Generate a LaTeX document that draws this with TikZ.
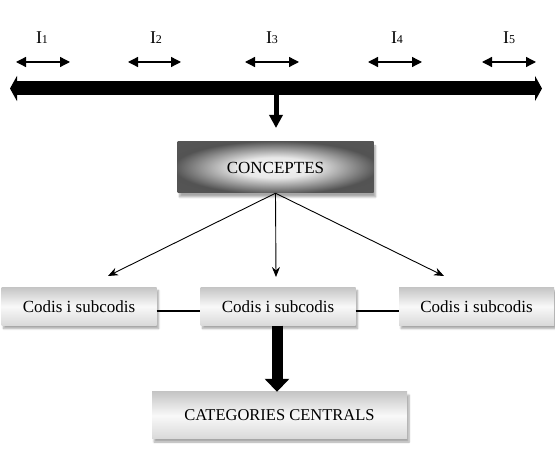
\documentclass[tikz,border=0pt]{standalone}
\usepackage{fontspec}
\setmainfont{Liberation Serif}
\usetikzlibrary{arrows.meta,shadows.blur}
\pgfdeclareradialshading{conshade}{\pgfpoint{0bp}{0bp}}{color(0bp)=(gray!8); color(10bp)=(gray!18); color(26bp)=(gray!65!black); color(50bp)=(gray!70!black)}
\begin{document}
\begin{tikzpicture}[x=1pt,y=-1pt,
  lbl/.style={font=\fontsize{18}{20}\selectfont, inner sep=0pt},
  dbl/.style={line width=1.3pt,{Triangle[width=10pt,length=10pt]}-{Triangle[width=10pt,length=10pt]}},
  conbox/.style={draw=none, minimum width=196pt, minimum height=51pt, inner sep=0pt,
    shading=conshade,
    blur shadow={shadow xshift=2pt, shadow yshift=-4pt, shadow opacity=35, shadow blur steps=6},
    font=\fontsize{17}{20}\selectfont},
  codbox/.style={draw=none, minimum width=155pt, minimum height=38pt, inner sep=0pt,
    top color=gray!45, bottom color=gray!30, middle color=gray!5,
    blur shadow={shadow xshift=2pt, shadow yshift=-3pt, shadow opacity=35, shadow blur steps=6},
    font=\fontsize{17}{20}\selectfont},
  catbox/.style={codbox, minimum width=255pt, minimum height=47pt, font=\fontsize{16.5}{20}\selectfont},
  thin arrow/.style={line width=0.9pt, -{Stealth[length=10pt,width=8pt]}},
  link/.style={line width=2pt}]
\useasboundingbox (0,0) rectangle (555,454);

% interval labels
\node[lbl] (l1) at (42,38) {I{\fontsize{12}{14}\selectfont 1}};
\node[lbl] (l2) at (156,38) {I{\fontsize{12}{14}\selectfont 2}};
\node[lbl] (l3) at (272,38) {I{\fontsize{12}{14}\selectfont 3}};
\node[lbl] (l4) at (397,38) {I{\fontsize{12}{14}\selectfont 4}};
\node[lbl] (l5) at (509,38) {I{\fontsize{12}{14}\selectfont 5}};

% interval double arrows
\coordinate (a1l) at (16,62);  \coordinate (a1r) at (70,62);
\coordinate (a2l) at (128,62); \coordinate (a2r) at (181,62);
\coordinate (a3l) at (245,62); \coordinate (a3r) at (299,62);
\coordinate (a4l) at (368,62); \coordinate (a4r) at (422,62);
\coordinate (a5l) at (482,62); \coordinate (a5r) at (536,62);
\draw[dbl] (a1l) -- (a1r);
\draw[dbl] (a2l) -- (a2r);
\draw[dbl] (a3l) -- (a3r);
\draw[dbl] (a4l) -- (a4r);
\draw[dbl] (a5l) -- (a5r);

% time axis
\coordinate (bl) at (10,88.5);
\coordinate (br) at (542,88.5);
\draw[line width=14pt,{Triangle[width=25pt,length=7pt]}-{Triangle[width=25pt,length=7pt]}] (bl) -- (br);

% small down arrow
\coordinate (ds) at (276,94);
\coordinate (de) at (276,128);
\draw[line width=5pt,-{Triangle[width=13pt,length=13pt]}] (ds) -- (de);

% boxes
\node[conbox] (con) at (275.5,167.5) {CONCEPTES};
\node[codbox] (c1) at (79,306.5) {Codis i subcodis};
\node[codbox] (c2) at (278,306.5) {Codis i subcodis};
\node[codbox] (c3) at (476.5,306.5) {Codis i subcodis};
\node[catbox] (cat) at (279.5,415.5) {CATEGORIES CENTRALS};

% arrows from concepts
\coordinate (t1) at (108,276);
\coordinate (t2) at (276,277);
\coordinate (t3) at (444,276);
\draw[thin arrow] (con.south) -- (t1);
\draw[thin arrow] (con.south) -- (t2);
\draw[thin arrow] (con.south) -- (t3);

% links between code boxes
\draw[link] ([yshift=-5pt]c1.east) -- ([yshift=-5pt]c2.west);
\draw[link] ([yshift=-5pt]c2.east) -- ([yshift=-5pt]c3.west);

% thick arrow down
\draw[line width=11pt,-{Triangle[width=24pt,length=13pt]}] ([xshift=-1pt]c2.south) -- ([xshift=-2.5pt]cat.north);
\end{tikzpicture}
\end{document}
